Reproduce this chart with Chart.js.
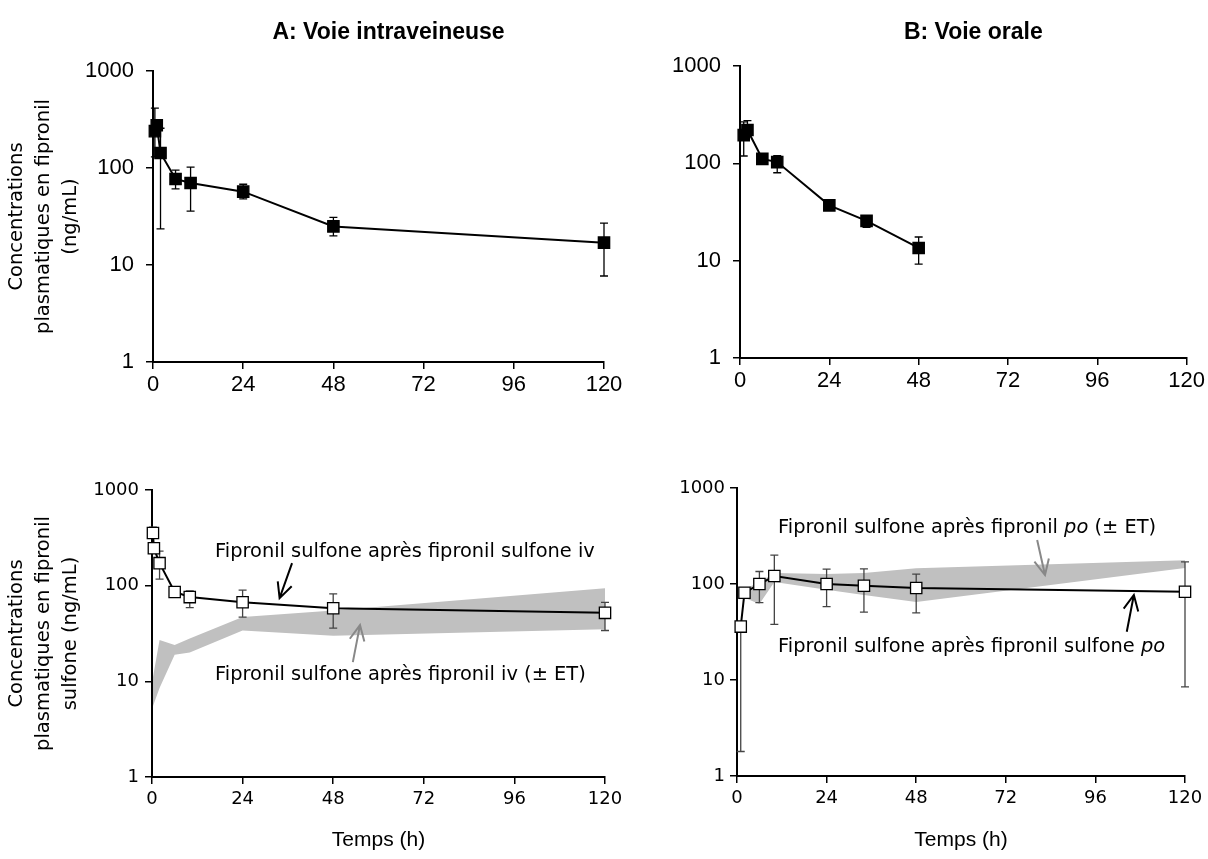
<!DOCTYPE html>
<html>
<head>
<meta charset="utf-8">
<script src="https://cdn.jsdelivr.net/npm/chart.js@4.4.1/dist/chart.umd.min.js"></script>
<style>
  body { margin: 0; background: #fff; }
  #wrap { position: relative; width: 1208px; height: 859px; }
  #wrap canvas { position: absolute; }
</style>
</head>
<body>
<div id="wrap">
  <canvas id="ivTop" width="640" height="420" style="left:0;top:0"></canvas>
  <canvas id="poTop" width="568" height="420" style="left:640px;top:0"></canvas>
  <canvas id="ivBottom" width="640" height="439" style="left:0;top:420px"></canvas>
  <canvas id="poBottom" width="568" height="439" style="left:640px;top:420px"></canvas>
</div>
<script>
// axes
const xTicks = [0, 24, 48, 72, 96, 120];
const yTicks = [1, 10, 100, 1000];

// fipronil after iv dose (mean, +ET, -ET)
const ivTime = [0.5, 1, 2, 6, 10, 24, 48, 120];
const ivConc = [240, 276, 143, 77, 70, 57, 25, 17];
const ivHi   = [415, null, 257, 95, 102, 68, 31, 27];
const ivLo   = [130, null, 23.6, 61, 36, 48, 20, 7.7];

// fipronil after oral dose
const poTime = [1, 2, 6, 10, 24, 34, 48];
const poConc = [195, 220, 111, 103, 37, 25.6, 13.5];
const poHi   = [267, 275, null, 120, null, 29, 17.5];
const poLo   = [119, null, null, 80, null, 22, 9.2];

// fipronil sulfone after sulfone iv
const sivTime = [0.25, 0.5, 2, 6, 10, 24, 48, 120];
const sivConc = [355, 246, 172, 86, 76, 67, 58, 52];
const sivHi   = [410, null, 230, null, 88, 90, 82, 67];
const sivLo   = [null, null, 117, null, 59, 47, 36, 34];

// fipronil sulfone after fipronil iv (band = mean ± ET)
const bandIvTime = [0.25, 2, 6, 10, 24, 48, 120];
const bandIvHi   = [11, 27, 24, 28, 47, 55, 94];
const bandIvLo   = [5.5, 8.5, 19, 20, 34, 30, 35];

// fipronil sulfone after sulfone po
const spoTime = [1, 2, 6, 10, 24, 34, 48, 120];
const spoConc = [36, 81, 100, 121, 100, 96, 91, 83];
const spoHi   = [null, null, 135, 200, 143, 144, 127, 170];
const spoLo   = [1.8, null, 64, 38, 58, 51, 50, 8.5];

// fipronil sulfone after fipronil po (band)
const bandPoTime = [2, 6, 10, 24, 34, 48, 120];
const bandPoHi   = [88, 105, 130, 127, 130, 146, 177];
const bandPoLo   = [72, 62, 105, 87, 77, 65, 147];

const armFont = "'Liberation Sans', Arial, sans-serif";
const tahFont = "'DejaVu Sans', Verdana, sans-serif";

function pts(xs, ys) {
  return xs.map((x, i) => ({x: x, y: ys[i]}));
}

// draws the ± ET whiskers right before the series they belong to
const errorBars = {
  id: 'errorBars',
  beforeDatasetDraw(chart, args) {
    const ds = chart.data.datasets[args.index];
    if (!ds.errHi) return;
    const ctx = chart.ctx, xs = chart.scales.x, ys = chart.scales.y;
    ctx.save();
    ctx.strokeStyle = ds.errColor || '#000';
    ctx.lineWidth = 1.3;
    ds.data.forEach((p, i) => {
      const x = xs.getPixelForValue(p.x);
      const y0 = ys.getPixelForValue(p.y);
      [ds.errHi[i], ds.errLo[i]].forEach(v => {
        if (v == null) return;
        const y = ys.getPixelForValue(v);
        ctx.beginPath();
        ctx.moveTo(x, y0); ctx.lineTo(x, y);
        ctx.moveTo(x - 4, y); ctx.lineTo(x + 4, y);
        ctx.stroke();
      });
    });
    ctx.restore();
  }
};

// panel title, in-plot labels and arrows
const notes = {
  id: 'notes',
  afterDatasetsDraw(chart, args, o) {
    const ctx = chart.ctx, xs = chart.scales.x, ys = chart.scales.y, a = chart.chartArea;
    ctx.save();
    if (o.title) {
      ctx.font = o.title.font;
      ctx.fillStyle = '#000';
      ctx.textAlign = 'center';
      ctx.textBaseline = 'middle';
      ctx.fillText(o.title.text, (a.left + a.right) / 2 + o.title.dx, o.title.y);
    }
    (o.labels || []).forEach(l => {
      let x = xs.getPixelForValue(l.t);
      const y = ys.getPixelForValue(l.v);
      ctx.textAlign = 'left';
      ctx.textBaseline = 'alphabetic';
      ctx.fillStyle = '#000';
      l.parts.forEach(p => {
        ctx.font = (p[1] ? 'italic ' : '') + o.labelFont;
        ctx.fillText(p[0], x, y);
        x += ctx.measureText(p[0]).width;
      });
    });
    (o.arrows || []).forEach(ar => {
      const x1 = xs.getPixelForValue(ar.from[0]), y1 = ys.getPixelForValue(ar.from[1]);
      const x2 = xs.getPixelForValue(ar.to[0]), y2 = ys.getPixelForValue(ar.to[1]);
      const ang = Math.atan2(y2 - y1, x2 - x1), L = 17, sp = 0.45;
      ctx.strokeStyle = ar.color;
      ctx.lineWidth = 2;
      ctx.beginPath();
      ctx.moveTo(x1, y1); ctx.lineTo(x2, y2);
      ctx.moveTo(x2 - L * Math.cos(ang - sp), y2 - L * Math.sin(ang - sp));
      ctx.lineTo(x2, y2);
      ctx.lineTo(x2 - L * Math.cos(ang + sp), y2 - L * Math.sin(ang + sp));
      ctx.stroke();
    });
    ctx.restore();
  }
};

function lineSet(time, conc, hi, lo, filled, errColor) {
  return {
    data: pts(time, conc),
    borderColor: '#000',
    borderWidth: 2,
    pointStyle: 'rect',
    pointRadius: 8,
    pointBackgroundColor: filled ? '#000' : '#fff',
    pointBorderColor: '#000',
    pointBorderWidth: 1.3,
    clip: false,
    order: 0,
    errHi: hi, errLo: lo, errColor: errColor
  };
}

function bandSets(time, hi, lo) {
  return [
    {data: pts(time, hi), fill: '+1', backgroundColor: '#c0c0c0', borderWidth: 0, pointRadius: 0, order: 1},
    {data: pts(time, lo), fill: false, borderWidth: 0, pointRadius: 0, order: 2}
  ];
}

function makePanel(id, p) {
  const tickFont = {family: p.tickFamily, size: p.tickSize};
  return new Chart(document.getElementById(id), {
    type: 'line',
    data: {datasets: p.datasets},
    plugins: [errorBars, notes],
    options: {
      responsive: false,
      animation: false,
      layout: {padding: {top: p.top, right: p.right, bottom: 0, left: 0}},
      plugins: {
        legend: {display: false},
        tooltip: {enabled: false},
        notes: p.notes
      },
      scales: {
        x: {
          type: 'linear', min: 0, max: 120,
          afterBuildTicks: s => { s.ticks = xTicks.map(v => ({value: v})); },
          afterFit: s => { s.height = p.xH; },
          grid: {drawOnChartArea: false, tickLength: 7, color: '#000', lineWidth: 1.5},
          border: {color: '#000', width: 2},
          ticks: {color: '#000', font: tickFont, padding: p.xPad, maxRotation: 0, autoSkip: false},
          title: p.xTitle ? {display: true, text: p.xTitle, color: '#000',
            font: {family: armFont, size: 21}, padding: {top: 0, bottom: 6}} : {display: false}
        },
        y: {
          type: 'logarithmic', min: 1, max: 1000,
          afterBuildTicks: s => { s.ticks = yTicks.map(v => ({value: v})); },
          afterFit: s => { s.width = p.yW; },
          grid: {drawOnChartArea: false, tickLength: 7, color: '#000', lineWidth: 1.5},
          border: {color: '#000', width: 2},
          ticks: {color: '#000', font: tickFont, padding: p.yPad, callback: v => String(v)},
          title: p.yTitle ? {display: true, text: p.yTitle, color: '#000',
            font: {family: tahFont, size: 19.5, lineHeight: 1.39}, padding: {top: 3, bottom: 0}} : {display: false}
        }
      }
    }
  });
}

const titleFont = "bold 23px 'Liberation Sans', Arial, sans-serif";
const noteFont = "19.4px " + tahFont;

makePanel('ivTop', {
  top: 71, right: 36, xH: 58, yW: 153, xPad: 3, yPad: 12,
  tickFamily: armFont, tickSize: 22,
  yTitle: ['Concentrations', 'plasmatiques en fipronil', '(ng/mL)'],
  datasets: [lineSet(ivTime, ivConc, ivHi, ivLo, true, '#000')],
  notes: {title: {text: 'A: Voie intraveineuse', dx: 10, y: 33, font: titleFont}}
});

makePanel('poTop', {
  top: 66, right: 21, xH: 62, yW: 100, xPad: 3, yPad: 12,
  tickFamily: armFont, tickSize: 22,
  datasets: [lineSet(poTime, poConc, poHi, poLo, true, '#000')],
  notes: {title: {text: 'B: Voie orale', dx: 10, y: 33, font: titleFont}}
});

makePanel('ivBottom', {
  top: 70, right: 35, xH: 82, yW: 152, xPad: 5, yPad: 6,
  tickFamily: tahFont, tickSize: 18,
  yTitle: ['Concentrations', 'plasmatiques en fipronil', 'sulfone (ng/mL)'],
  xTitle: 'Temps (h)',
  datasets: [lineSet(sivTime, sivConc, sivHi, sivLo, false, '#444')].concat(bandSets(bandIvTime, bandIvHi, bandIvLo)),
  notes: {
    labelFont: noteFont,
    labels: [
      {t: 16.7, v: 199, parts: [['Fipronil sulfone après fipronil sulfone iv', false]]},
      {t: 16.7, v: 10.3, parts: [['Fipronil sulfone après fipronil iv (± ET)', false]]}
    ],
    arrows: [
      {from: [37.1, 172], to: [33.8, 74], color: '#000'},
      {from: [53.2, 15.9], to: [55.1, 38.7], color: '#888'}
    ]
  }
});

makePanel('poBottom', {
  top: 68, right: 23, xH: 83, yW: 97, xPad: 5, yPad: 5,
  tickFamily: tahFont, tickSize: 18,
  xTitle: 'Temps (h)',
  datasets: [lineSet(spoTime, spoConc, spoHi, spoLo, false, '#444')].concat(bandSets(bandPoTime, bandPoHi, bandPoLo)),
  notes: {
    labelFont: noteFont,
    labels: [
      {t: 11, v: 340, parts: [['Fipronil sulfone après fipronil ', false], ['po', true], [' (± ET)', false]]},
      {t: 11, v: 19.6, parts: [['Fipronil sulfone après fipronil sulfone ', false], ['po', true]]}
    ],
    arrows: [
      {from: [80.4, 287], to: [82.5, 124], color: '#888'},
      {from: [104.4, 31.8], to: [106.3, 76.8], color: '#000'}
    ]
  }
});
</script>
</body>
</html>
